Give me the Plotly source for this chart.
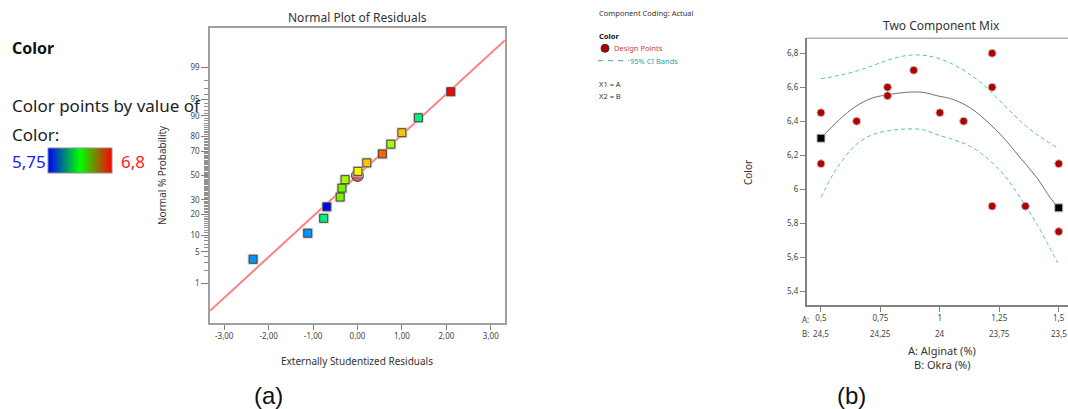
import plotly.graph_objects as go
from statistics import NormalDist

W, H = 1068, 409
nd = NormalDist()

# ---------------- (a) Normal plot of residuals ----------------
residuals = [-2.35, -1.12, -0.76, -0.69, -0.39, -0.35, -0.28, 0.01, 0.21, 0.56, 0.75, 1.00, 1.37, 2.10]
probabilities = [3.57, 10.71, 17.86, 25.00, 32.14, 39.29, 46.43, 53.57, 60.71, 67.86, 75.00, 82.14, 89.29, 96.43]
point_color_values = [5.90, 5.90, 6.15, 5.75, 6.40, 6.40, 6.45, 6.55, 6.60, 6.70, 6.45, 6.60, 6.15, 6.80]
ref_line_resid = [-3.32, 3.32]
ref_line_prob = [0.18, 99.82]
center_resid = [0.0]
center_prob = [50.0]
prob_ticks = [1, 5, 10, 20, 30, 50, 70, 80, 90, 95, 99]
prob_minor = [2, 3, 4, 6, 7, 8, 9, 11, 12, 13, 14, 15, 16, 17, 18, 19, 21, 22, 23, 24, 25, 26, 27, 28, 29,
              31, 32, 33, 34, 35, 36, 37, 38, 39, 40, 41, 42, 43, 44, 45, 46, 47, 48, 49, 51, 52, 53, 54, 55,
              56, 57, 58, 59, 60, 61, 62, 63, 64, 65, 66, 67, 68, 69, 71, 72, 73, 74, 75, 76, 77, 78, 79, 81,
              82, 83, 84, 85, 86, 87, 88, 89, 91, 92, 93, 94, 96, 97, 98]
resid_ticks = [-3, -2, -1, 0, 1, 2, 3]
resid_ticktext = ["-3,00", "-2,00", "-1,00", "0,00", "1,00", "2,00", "3,00"]
color_min, color_max = 5.75, 6.80

# ---------------- (b) Two component mix ----------------
alginat = [0.50, 0.50, 0.65, 0.78, 0.78, 0.89, 1.00, 1.10, 1.22, 1.22, 1.22, 1.36, 1.50, 1.50]
color_obs = [6.45, 6.15, 6.40, 6.60, 6.55, 6.70, 6.45, 6.40, 6.80, 6.60, 5.90, 5.90, 6.15, 5.75]
vertex_x = [0.5, 1.5]
vertex_y = [6.30, 5.89]
fit_x = [0.5, 0.577, 0.647, 0.717, 0.783, 0.858, 0.928, 0.988, 1.058, 1.128, 1.198, 1.269, 1.339, 1.409, 1.465, 1.5]
fit_y = [6.301, 6.409, 6.488, 6.537, 6.556, 6.570, 6.570, 6.550, 6.527, 6.478, 6.400, 6.301, 6.183, 6.066, 5.948, 5.889]
ci_x = [0.5, 0.542, 0.577, 0.647, 0.717, 0.787, 0.858, 0.928, 0.988, 1.058, 1.128, 1.198, 1.269, 1.339, 1.409, 1.496]
ci_upper = [6.650, 6.660, 6.670, 6.694, 6.727, 6.762, 6.786, 6.789, 6.772, 6.733, 6.674, 6.596, 6.497, 6.400, 6.321, 6.242]
ci_lower = [5.952, 6.066, 6.144, 6.262, 6.321, 6.344, 6.354, 6.350, 6.321, 6.291, 6.252, 6.183, 6.085, 5.948, 5.791, 5.565]
a_ticks = [0.5, 0.75, 1.0, 1.25, 1.5]
a_ticktext = ["0,5", "0,75", "1", "1,25", "1,5"]
b_ticktext = ["24,5", "24,25", "24", "23,75", "23,5"]
y_ticks = [6.8, 6.6, 6.4, 6.2, 6.0, 5.8, 5.6, 5.4]
y_ticktext = ["6,8", "6,6", "6,4", "6,2", "6", "5,8", "5,6", "5,4"]

FONT = "Noto Sans"


def z(p):
    return nd.inv_cdf(p / 100.0)


def px(x):
    return x / W


def py(y):
    return 1 - y / H


hue_scale = [[0, "rgb(0,0,255)"], [0.25, "rgb(0,255,255)"], [0.5, "rgb(0,230,0)"],
             [0.75, "rgb(255,255,0)"], [1, "rgb(255,0,0)"]]
bar_scale = [[0, "rgb(0,0,255)"], [0.5, "rgb(0,255,0)"], [1, "rgb(255,0,0)"]]

fig = go.Figure()

# reference line
fig.add_trace(go.Scatter(x=ref_line_resid, y=[z(p) for p in ref_line_prob], mode="lines",
                         line=dict(color="#ff8080", width=2), xaxis="x", yaxis="y",
                         showlegend=False, hoverinfo="skip"))
# centre circle
fig.add_trace(go.Scatter(x=center_resid, y=[z(p) for p in center_prob], mode="markers",
                         marker=dict(symbol="circle", size=12, color="rgba(170,80,80,0.85)",
                                     line=dict(color="#703030", width=1)),
                         xaxis="x", yaxis="y", showlegend=False))
# halo of points
fig.add_trace(go.Scatter(x=residuals, y=[z(p) for p in probabilities], mode="markers",
                         marker=dict(symbol="square", size=11, color="rgba(200,200,200,0.7)"),
                         xaxis="x", yaxis="y", showlegend=False, hoverinfo="skip"))
# points
fig.add_trace(go.Scatter(x=residuals, y=[z(p) for p in probabilities], mode="markers",
                         marker=dict(symbol="square", size=8, color=point_color_values,
                                     colorscale=hue_scale, cmin=color_min, cmax=color_max,
                                     line=dict(color="#404040", width=1)),
                         xaxis="x", yaxis="y", showlegend=False))
# colour legend bar
fig.add_trace(go.Scatter(x=[None, None], y=[None, None], mode="markers",
                         marker=dict(color=[color_min, color_max], colorscale=bar_scale,
                                     cmin=color_min, cmax=color_max, showscale=True,
                                     colorbar=dict(orientation="h", thickness=25, thicknessmode="pixels",
                                                   len=64, lenmode="pixels", x=px(48), xanchor="left",
                                                   y=py(148), yanchor="top", outlinecolor="#909090",
                                                   outlinewidth=1, showticklabels=False, ticks="",
                                                   xpad=0, ypad=0)),
                         xaxis="x", yaxis="y", showlegend=False, hoverinfo="skip"))

# (b) CI bands
for yy in (ci_upper, ci_lower):
    fig.add_trace(go.Scatter(x=ci_x, y=yy, mode="lines", line=dict(color="#5cbcbc", width=1, dash="4px,3px",
                                                                      shape="spline"),
                             xaxis="x2", yaxis="y2", showlegend=False, hoverinfo="skip"))
# fitted curve
fig.add_trace(go.Scatter(x=fit_x, y=fit_y, mode="lines", line=dict(color="#707070", width=1, shape="spline"),
                         xaxis="x2", yaxis="y2", showlegend=False, hoverinfo="skip"))
# design points
fig.add_trace(go.Scatter(x=alginat, y=color_obs, mode="markers",
                         marker=dict(symbol="circle", size=8, color="#b00000", line=dict(color="#c8c8c8", width=1)),
                         xaxis="x2", yaxis="y2", showlegend=False))
# vertex squares
fig.add_trace(go.Scatter(x=vertex_x, y=vertex_y, mode="markers",
                         marker=dict(symbol="square", size=8, color="#000000", line=dict(color="#c0c0c0", width=1)),
                         xaxis="x2", yaxis="y2", showlegend=False))

tickfont = dict(family=FONT, size=8, color="#444444")

fig.update_layout(
    width=W, height=H, margin=dict(l=0, r=0, t=0, b=0),
    paper_bgcolor="white", plot_bgcolor="white", separators=",.",
    font=dict(family=FONT, color="#333333"),
    xaxis=dict(domain=[px(210), px(505)], range=[-3.32, 3.32], tickvals=resid_ticks, ticktext=resid_ticktext,
               showline=True, mirror=True, linecolor="#a0a0a0", linewidth=1.5, ticks="outside", ticklen=5,
               tickcolor="#808080", showgrid=False, zeroline=False, tickfont=tickfont, anchor="y"),
    yaxis=dict(domain=[py(323), py(28)], range=[-3.175, 3.175], tickvals=[z(p) for p in prob_ticks],
               ticktext=[str(p) for p in prob_ticks], showline=True, mirror=True, linecolor="#a0a0a0",
               linewidth=1.5, ticks="outside", ticklen=7, tickcolor="#808080", showgrid=False, zeroline=False,
               tickfont=tickfont, anchor="x",
               minor=dict(tickvals=[z(p) for p in prob_minor], ticks="outside", ticklen=4,
                          tickcolor="#909090", showgrid=False)),
    xaxis2=dict(domain=[px(806.7), 1.0], range=[0.44, 1.539], tickvals=a_ticks, ticktext=a_ticktext,
                showline=True, linecolor="#808080", linewidth=1.5, ticks="outside", ticklen=5,
                tickcolor="#808080", showgrid=False, zeroline=False, tickfont=tickfont, anchor="y2"),
    yaxis2=dict(domain=[py(305), py(38.3)], range=[5.318, 6.888], tickvals=y_ticks, ticktext=y_ticktext,
                showline=True, linecolor="#808080", linewidth=1.5, ticks="outside", ticklen=5,
                tickcolor="#808080", showgrid=False, zeroline=False, tickfont=tickfont, anchor="x2"),
)

shapes = [
    # top border of (b)
    dict(type="line", xref="paper", yref="paper", x0=px(806.7), x1=1.0, y0=py(38.3), y1=py(38.3),
         line=dict(color="#b0b0b0", width=1.5)),
    # light centre line on colour bar
    dict(type="line", xref="paper", yref="paper", x0=px(80.5), x1=px(80.5), y0=py(149), y1=py(172),
         line=dict(color="rgba(180,255,180,0.9)", width=1)),
    # legend marker
    dict(type="circle", xref="paper", yref="paper", x0=px(601), x1=px(609), y0=py(44.3), y1=py(52.3),
         fillcolor="#b00000", line=dict(color="#303030", width=1)),
    # legend dashed line
    dict(type="line", xref="paper", yref="paper", x0=px(598), x1=px(629), y0=py(60.7), y1=py(60.7),
         line=dict(color="#40a8a8", width=1, dash="5px,5px")),
]
fig.update_layout(shapes=shapes)

ann = []


def text(x, y, s, size, color="#333333", anchor="left", bold=False, angle=0, family=FONT):
    ann.append(dict(x=px(x), y=py(y), xref="paper", yref="paper", text=f"<b>{s}</b>" if bold else s,
                    showarrow=False, xanchor=anchor, yanchor="middle", textangle=angle,
                    font=dict(family=family, size=size, color=color)))


# left legend
text(10, 48, "Color", 16, "#111111", bold=True)
text(10, 105, "Color points by value of", 17, "#222222")
text(10, 134, "Color:", 17, "#222222")
text(10, 161, "5,75", 17, "#2020ff")
text(119, 161, "6,8", 17, "#ff2020")

# (a) titles
text(357, 17, "Normal Plot of Residuals", 12, "#333333", anchor="center")
text(162, 175, "Normal % Probability", 10, "#333333", anchor="center", angle=-90)
text(357, 361, "Externally Studentized Residuals", 10, "#333333", anchor="center")
text(268, 395, "(a)", 24, "#111111", anchor="center", family="Liberation Sans")

# middle legend
text(597, 13, "Component Coding: Actual", 7.5, "#333333")
text(597, 36, "Color", 7.5, "#111111", bold=True)
text(612, 48, "Design Points", 7.5, "#d04040")
text(628, 61, "95% CI Bands", 7.5, "#30a0a0")
text(597, 84, "X1 = A", 7.5, "#333333")
text(597, 96, "X2 = B", 7.5, "#333333")

# (b) titles
text(941, 26, "Two Component Mix", 12, "#333333", anchor="center")
text(748, 173, "Color", 10, "#333333", anchor="center", angle=-90)
text(805, 319, "A:", 8, "#444444", anchor="center")
text(805, 333, "B:", 8, "#444444", anchor="center")
for a_val, lab in zip(a_ticks, b_ticktext):
    ann.append(dict(x=a_val, y=py(333), xref="x2", yref="paper", text=lab, showarrow=False,
                    xanchor="center", yanchor="middle", font=tickfont))
text(942, 350, "A: Alginat (%)", 11, "#333333", anchor="center")
text(942, 364, "B: Okra (%)", 11, "#333333", anchor="center")
text(851, 395, "(b)", 24, "#111111", anchor="center", family="Liberation Sans")

fig.update_layout(annotations=ann)

fig.write_html("out.html")
